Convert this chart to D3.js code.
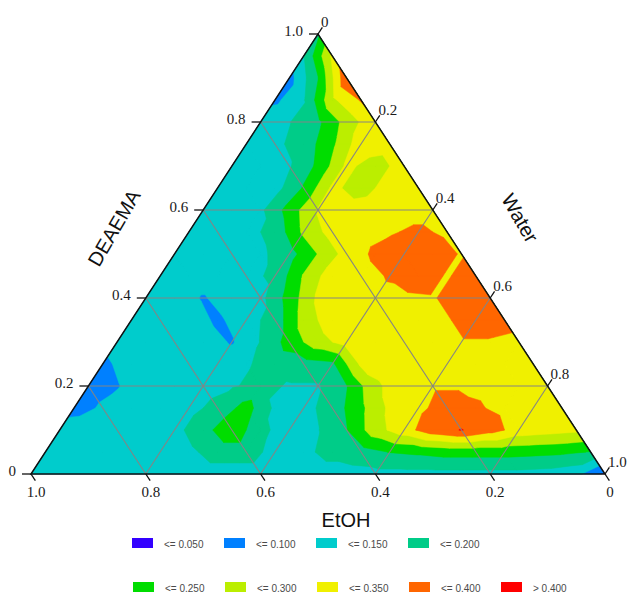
<!DOCTYPE html>
<html>
<head>
<meta charset="utf-8">
<script src="https://cdn.jsdelivr.net/npm/d3@7"></script>
<style>
  body { margin: 0; background: #ffffff; }
  svg { display: block; }
</style>
</head>
<body>
<svg id="chart" width="632" height="593"></svg>
<script>
// Measured response on a 0.05 ternary lattice.
// values[k][i]: DEAEMA = k * 0.05, Water = i * 0.05, EtOH = 1 - DEAEMA - Water
const values = [
  [0.12, 0.125, 0.13, 0.13, 0.13, 0.13, 0.13, 0.13, 0.13, 0.13, 0.13, 0.13, 0.135, 0.135, 0.135, 0.135, 0.135, 0.135, 0.13, 0.115, 0.04],
  [0.125, 0.13, 0.13, 0.13, 0.13, 0.14, 0.17, 0.17, 0.135, 0.14, 0.165, 0.18, 0.202, 0.21, 0.22, 0.22, 0.22, 0.215, 0.21, 0.198],
  [0.12, 0.125, 0.13, 0.13, 0.135, 0.18, 0.24, 0.16, 0.13, 0.148, 0.198, 0.28, 0.33, 0.38, 0.402, 0.37, 0.33, 0.32, 0.31],
  [0.085, 0.105, 0.125, 0.13, 0.135, 0.165, 0.22, 0.14, 0.135, 0.17, 0.24, 0.31, 0.34, 0.37, 0.355, 0.34, 0.335, 0.32],
  [0.085, 0.097, 0.125, 0.13, 0.13, 0.145, 0.165, 0.145, 0.145, 0.198, 0.29, 0.33, 0.345, 0.345, 0.34, 0.335, 0.33],
  [0.09, 0.12, 0.13, 0.13, 0.13, 0.145, 0.17, 0.18, 0.19, 0.31, 0.33, 0.335, 0.34, 0.34, 0.335, 0.33],
  [0.12, 0.13, 0.13, 0.125, 0.095, 0.152, 0.22, 0.28, 0.32, 0.33, 0.335, 0.34, 0.345, 0.345, 0.335],
  [0.125, 0.13, 0.13, 0.09, 0.13, 0.17, 0.27, 0.33, 0.33, 0.335, 0.34, 0.345, 0.38, 0.37],
  [0.13, 0.13, 0.095, 0.13, 0.135, 0.22, 0.31, 0.33, 0.335, 0.34, 0.345, 0.38, 0.37],
  [0.13, 0.13, 0.13, 0.135, 0.16, 0.255, 0.33, 0.33, 0.355, 0.38, 0.345, 0.38],
  [0.13, 0.13, 0.13, 0.14, 0.18, 0.252, 0.32, 0.36, 0.38, 0.38, 0.345],
  [0.13, 0.13, 0.135, 0.165, 0.26, 0.32, 0.33, 0.345, 0.36, 0.34],
  [0.13, 0.13, 0.14, 0.22, 0.305, 0.32, 0.33, 0.33, 0.33],
  [0.13, 0.13, 0.13, 0.205, 0.31, 0.28, 0.32, 0.33],
  [0.13, 0.135, 0.145, 0.21, 0.31, 0.28, 0.32],
  [0.13, 0.14, 0.17, 0.24, 0.33, 0.32],
  [0.135, 0.148, 0.19, 0.27, 0.34],
  [0.088, 0.145, 0.29, 0.355],
  [0.08, 0.198, 0.39],
  [0.148, 0.31],
  [0.19]
];

// Contour levels and fill colours (first colour is the band below the first level)
const thresholds = [0.05, 0.10, 0.15, 0.20, 0.25, 0.30, 0.35, 0.40];
const bandColors = ["#3300ff", "#0080ff", "#00cccc", "#00cc88", "#00dd00", "#bbee00", "#f0f000", "#ff6600", "#ff0000"];
const legendLabels = ["<= 0.050", "<= 0.100", "<= 0.150", "<= 0.200", "<= 0.250", "<= 0.300", "<= 0.350", "<= 0.400", "> 0.400"];

// Axis ticks and titles
const tickValues = [0, 0.2, 0.4, 0.6, 0.8, 1.0];
const tickLabels = ["0", "0.2", "0.4", "0.6", "0.8", "1.0"];
const gridValues = [0.2, 0.4, 0.6, 0.8];
const axisTitles = { left: "DEAEMA", right: "Water", bottom: "EtOH" };

const svg = d3.select("#chart");

// Ternary layout: horizontal position = Water + DEAEMA / 2, vertical = DEAEMA
const x = d3.scaleLinear().domain([0, 1]).range([31, 605]);
const y = d3.scaleLinear().domain([0, 1]).range([474, 34]);
const pt = (w, d) => [x(w + d / 2), y(d)];

const n = values.length - 1;
const step = 1 / n;
const node = (i, k) => ({ w: i * step, d: k * step, f: values[k][i] });

// Triangulate the lattice
const triangles = [];
for (let k = 0; k < n; k++) {
  for (let i = 0; i < n - k; i++) {
    triangles.push([node(i, k), node(i + 1, k), node(i, k + 1)]);
    if (i + k <= n - 2) triangles.push([node(i + 1, k), node(i + 1, k + 1), node(i, k + 1)]);
  }
}

// Part of a triangle where the linearly interpolated value is >= t
function clipAbove(poly, t) {
  const out = [];
  for (let j = 0; j < poly.length; j++) {
    const a = poly[j], b = poly[(j + 1) % poly.length];
    const ina = a.f >= t, inb = b.f >= t;
    if (ina) out.push(a);
    if (ina !== inb) {
      const s = (t - a.f) / (b.f - a.f);
      out.push({ w: a.w + s * (b.w - a.w), d: a.d + s * (b.d - a.d), f: t });
    }
  }
  return out;
}

function ringsPath(polys) {
  const p = d3.path();
  polys.forEach(poly => {
    poly.forEach((v, j) => {
      const [px, py] = pt(v.w, v.d);
      if (j) p.lineTo(px, py); else p.moveTo(px, py);
    });
    p.closePath();
  });
  return p.toString();
}

const outline = [{ w: 0, d: 0 }, { w: 1, d: 0 }, { w: 0, d: 1 }];

// Filled contour bands, lowest first
const fills = svg.append("g");
fills.append("path")
  .attr("d", ringsPath([outline]))
  .attr("fill", bandColors[0]);

thresholds.forEach((t, j) => {
  const pieces = triangles.map(tri => clipAbove(tri, t)).filter(p => p.length >= 3);
  if (!pieces.length) return;
  fills.append("path")
    .attr("d", ringsPath(pieces))
    .attr("fill", bandColors[j + 1])
    .attr("stroke", bandColors[j + 1])
    .attr("stroke-width", 0.5)
    .attr("stroke-linejoin", "round");
});

// Grid lines for all three components
const grid = svg.append("g")
  .attr("stroke", "#848484")
  .attr("stroke-width", 1.1)
  .attr("fill", "none");
const line = (a, b) => {
  const [x1, y1] = pt(a[0], a[1]);
  const [x2, y2] = pt(b[0], b[1]);
  grid.append("line").attr("x1", x1).attr("y1", y1).attr("x2", x2).attr("y2", y2);
};
gridValues.forEach(v => {
  line([0, v], [1 - v, v]);       // DEAEMA = v
  line([v, 0], [v, 1 - v]);       // Water = v
  line([1 - v, 0], [0, 1 - v]);   // EtOH = v
});

// Triangle border
svg.append("path")
  .attr("d", ringsPath([outline]))
  .attr("fill", "none")
  .attr("stroke", "#111")
  .attr("stroke-width", 1.5)
  .attr("stroke-linejoin", "miter");

// Ticks and tick labels
const ticks = svg.append("g").attr("stroke", "#111").attr("stroke-width", 1.3);
const tickText = svg.append("g")
  .attr("font-family", "'Liberation Serif', 'DejaVu Serif', serif")
  .attr("font-size", 15)
  .attr("fill", "#1a1a1a");

const L = 8;
const ux = 287 / 525.3, uy = 440 / 525.3; // unit vector along the side edges

tickValues.forEach((v, idx) => {
  const label = tickLabels[idx];

  // DEAEMA (left side)
  let [px, py] = pt(0, v);
  ticks.append("line").attr("x1", px - 9).attr("y1", py).attr("x2", px).attr("y2", py);
  tickText.append("text").attr("x", px - 15).attr("y", py + 2)
    .attr("text-anchor", "end").text(label);

  // Water (right side)
  [px, py] = pt(v, 1 - v);
  ticks.append("line").attr("x1", px).attr("y1", py)
    .attr("x2", px + ux * L).attr("y2", py - uy * L);
  tickText.append("text").attr("x", px + 3).attr("y", py - 7)
    .attr("text-anchor", "start").text(label);

  // EtOH (bottom side)
  [px, py] = pt(1 - v, 0);
  ticks.append("line").attr("x1", px).attr("y1", py)
    .attr("x2", px + ux * L).attr("y2", py + uy * L);
  tickText.append("text").attr("x", px + 5).attr("y", py + 23)
    .attr("text-anchor", "middle").text(label);
});

// Axis titles
const titleFont = "'Liberation Sans', Arial, sans-serif";
svg.append("text")
  .attr("transform", "translate(114,228) rotate(-60)")
  .attr("text-anchor", "middle").attr("dominant-baseline", "central")
  .attr("font-family", titleFont).attr("font-size", 20).attr("fill", "#111")
  .text(axisTitles.left);
svg.append("text")
  .attr("transform", "translate(520,218) rotate(60)")
  .attr("text-anchor", "middle").attr("dominant-baseline", "central")
  .attr("font-family", titleFont).attr("font-size", 20).attr("fill", "#111")
  .text(axisTitles.right);
svg.append("text")
  .attr("x", 346).attr("y", 527)
  .attr("text-anchor", "middle")
  .attr("font-family", titleFont).attr("font-size", 20).attr("fill", "#111")
  .text(axisTitles.bottom);

// Legend: two rows of colour keys
const legend = svg.append("g")
  .attr("font-family", titleFont).attr("font-size", 10).attr("fill", "#4a4a4a");
const perRow = [4, 5];
let c = 0;
perRow.forEach((count, r) => {
  const x0 = 132 + r;
  const y0 = 538 + r * 44;
  for (let j = 0; j < count; j++, c++) {
    const g = legend.append("g").attr("transform", `translate(${x0 + j * 92},${y0})`);
    g.append("rect").attr("width", 21).attr("height", 10).attr("fill", bandColors[c]);
    g.append("text").attr("x", 32).attr("y", 10).text(legendLabels[c]);
  }
});
</script>
</body>
</html>
